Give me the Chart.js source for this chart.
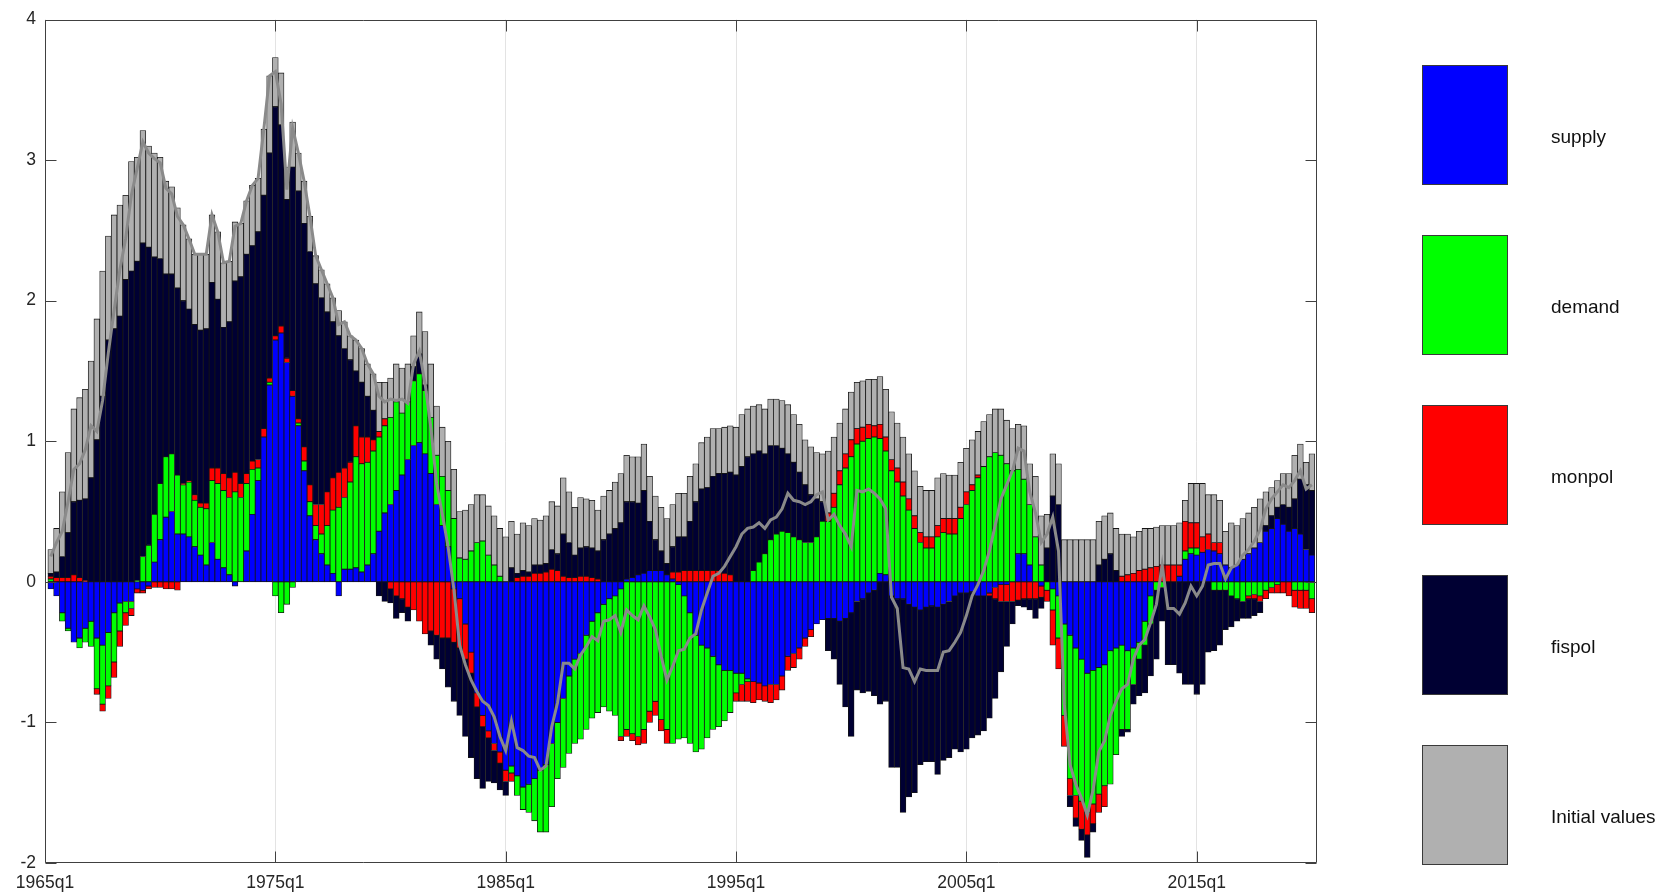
<!DOCTYPE html>
<html>
<head>
<meta charset="utf-8">
<script src="https://cdn.jsdelivr.net/npm/chart.js@4.4.0/dist/chart.umd.min.js"></script>
<style>
html,body{margin:0;padding:0;background:#fff;}
#wrap{position:relative;width:1660px;height:895px;overflow:hidden;}
#c{position:absolute;left:0;top:0;}
.lg-box{position:absolute;left:1422px;width:86px;height:120px;border:1px solid #3a3a3a;box-sizing:border-box;}
.lg-text{position:absolute;left:1551px;font-family:"Liberation Sans",Arial,Helvetica,sans-serif;font-size:19px;color:#111;line-height:1;transform:translateY(-50%);white-space:nowrap;}
</style>
</head>
<body>
<div id="wrap">
<canvas id="c" width="1660" height="895"></canvas>
<div id="legend"></div>
</div>
<script>
// ---------------- data ----------------
const seriesNames = ['supply', 'demand', 'monpol', 'fispol', 'Initial values'];
const seriesColors = ['#0000ff', '#00ff00', '#ff0000', '#000033', '#b0b0b0'];
const firstYear = 1965, firstQuarter = 2;   // first bar: 1965q2
const xTickYears = [1965, 1975, 1985, 1995, 2005, 2015];
const xTickLabels = ['1965q1', '1975q1', '1985q1', '1995q1', '2005q1', '2015q1'];
const yTickValues = [-2, -1, 0, 1, 2, 3, 4];

const supply = [
-0.05,-0.10,-0.22,-0.33,-0.43,-0.40,-0.33,-0.28,-0.40,-0.45,
-0.36,-0.22,-0.15,-0.14,-0.14,-0.05,-0.06,-0.03,0.14,0.30,
0.46,0.50,0.34,0.34,0.32,0.25,0.19,0.12,0.28,0.16,
0.10,0.05,-0.03,0.00,0.22,0.48,0.72,1.03,1.40,1.72,
1.77,1.56,1.32,1.11,0.79,0.47,0.30,0.20,0.12,0.06,
-0.10,0.09,0.09,0.10,0.07,0.12,0.20,0.36,0.49,0.55,
0.65,0.76,0.87,0.97,0.99,0.91,0.77,0.55,0.40,0.25,
-0.05,-0.12,-0.30,-0.50,-0.79,-0.95,-1.06,-1.15,-1.21,-1.34,
-1.31,-1.38,-1.46,-1.44,-1.40,-1.34,-1.30,-1.15,-1.00,-0.83,
-0.67,-0.55,-0.51,-0.38,-0.28,-0.22,-0.16,-0.12,-0.10,-0.05,
0.02,0.03,0.05,0.06,0.08,0.08,0.08,0.05,0.02,-0.02,
-0.10,-0.22,-0.38,-0.45,-0.47,-0.53,-0.59,-0.63,-0.63,-0.65,
-0.65,-0.69,-0.71,-0.72,-0.74,-0.73,-0.73,-0.67,-0.53,-0.51,
-0.47,-0.40,-0.34,-0.30,-0.27,-0.26,-0.26,-0.28,-0.26,-0.22,
-0.14,-0.12,-0.08,-0.06,0.06,0.05,-0.10,-0.12,-0.12,-0.16,
-0.18,-0.20,-0.18,-0.17,-0.18,-0.16,-0.14,-0.10,-0.08,-0.08,
-0.07,-0.10,-0.10,-0.08,-0.04,-0.02,-0.02,0.00,0.20,0.20,
0.12,0.00,-0.03,0.00,-0.05,-0.10,-0.30,-0.38,-0.47,-0.55,
-0.65,-0.63,-0.61,-0.59,-0.49,-0.47,-0.45,-0.49,-0.47,-0.43,
-0.28,-0.10,0.00,0.00,0.00,0.00,0.04,0.16,0.20,0.19,
0.21,0.23,0.22,0.20,0.12,0.10,0.12,0.16,0.20,0.24,
0.28,0.36,0.38,0.45,0.41,0.36,0.38,0.34,0.23,0.19
];
const demand = [
0.02,0.00,-0.06,-0.02,0.00,-0.07,-0.10,-0.18,-0.36,-0.42,
-0.38,-0.35,-0.20,-0.08,-0.05,0.01,0.18,0.26,0.34,0.40,
0.43,0.41,0.42,0.35,0.39,0.33,0.34,0.40,0.44,0.54,
0.55,0.55,0.64,0.60,0.48,0.32,0.09,0.00,0.02,-0.10,
-0.22,-0.16,-0.04,0.02,0.07,0.10,0.10,0.14,0.28,0.45,
0.53,0.51,0.62,0.79,0.77,0.73,0.73,0.67,0.62,0.62,
0.63,0.44,0.41,0.46,0.49,0.45,0.40,0.35,0.35,0.40,
0.45,0.17,0.16,0.22,0.28,0.29,0.19,0.12,0.04,0.00,
-0.05,-0.14,-0.16,-0.20,-0.30,-0.44,-0.48,-0.45,-0.40,-0.49,
-0.55,-0.60,-0.61,-0.67,-0.69,-0.71,-0.73,-0.80,-0.85,-1.05,
-1.05,-1.08,-1.10,-1.05,-0.92,-0.85,-0.98,-1.05,-1.15,-1.10,
-1.01,-0.93,-0.83,-0.74,-0.64,-0.52,-0.44,-0.36,-0.30,-0.14,
-0.08,-0.02,0.08,0.14,0.20,0.30,0.34,0.36,0.35,0.32,
0.30,0.28,0.28,0.32,0.43,0.43,0.53,0.69,0.81,0.89,
0.98,1.00,1.02,1.03,0.96,0.88,0.79,0.71,0.61,0.51,
0.38,0.28,0.24,0.24,0.32,0.35,0.34,0.34,0.45,0.55,
0.65,0.74,0.82,0.89,0.92,0.90,0.84,0.79,0.60,0.53,
0.43,0.32,0.12,-0.06,-0.15,-0.30,-0.65,-1.02,-1.05,-1.01,
-0.99,-0.95,-0.90,-0.86,-0.95,-0.76,-0.60,-0.56,-0.26,-0.12,
-0.17,-0.20,-0.06,-0.04,0.00,0.00,0.00,0.06,0.04,0.05,
0.00,0.00,-0.06,-0.06,-0.06,-0.10,-0.12,-0.14,-0.10,-0.09,
-0.10,-0.06,-0.04,-0.02,0.00,0.00,-0.06,-0.06,-0.06,-0.12
];
const monpol = [
0.02,0.03,0.03,0.03,0.05,0.03,0.01,0.00,-0.04,-0.05,
-0.09,-0.11,-0.11,-0.09,-0.05,-0.03,-0.02,-0.02,-0.04,-0.04,
-0.05,-0.05,-0.06,0.01,0.01,0.04,0.03,0.04,0.09,0.11,
0.12,0.14,0.14,0.10,0.07,0.06,0.06,0.06,0.03,0.03,
0.05,0.03,0.04,0.03,0.10,0.12,0.15,0.21,0.24,0.23,
0.25,0.21,0.14,0.22,0.19,0.18,0.08,0.04,0.05,-0.05,
-0.10,-0.12,-0.18,-0.20,-0.28,-0.37,-0.35,-0.38,-0.40,-0.40,
-0.38,-0.35,-0.25,-0.15,-0.10,-0.08,-0.05,-0.05,-0.08,-0.08,
-0.06,0.03,0.04,0.04,0.06,0.06,0.07,0.09,0.08,0.04,
0.03,0.03,0.04,0.04,0.03,0.02,0.00,0.00,0.00,-0.03,
-0.05,-0.05,-0.06,-0.10,-0.08,-0.10,-0.08,-0.10,0.05,0.07,
0.08,0.08,0.08,0.08,0.08,0.08,0.08,0.06,0.05,-0.06,
-0.12,-0.14,-0.15,-0.12,-0.11,-0.13,-0.11,-0.10,-0.10,-0.10,
-0.08,-0.06,-0.05,0.00,0.00,0.06,0.10,0.10,0.10,0.12,
0.11,0.10,0.10,0.08,0.10,0.10,0.08,0.10,0.10,0.08,
0.09,0.07,0.08,0.08,0.08,0.10,0.11,0.11,0.08,0.09,
0.04,0.02,0.00,-0.02,-0.08,-0.12,-0.12,-0.14,-0.13,-0.12,
-0.12,-0.12,-0.08,-0.08,-0.25,-0.22,-0.22,-0.12,-0.16,-0.20,
-0.16,-0.14,-0.13,-0.15,0.00,0.00,0.04,0.05,0.06,0.08,
0.09,0.10,0.11,0.12,0.12,0.12,0.08,0.21,0.18,0.18,
0.11,0.11,0.06,0.08,0.00,0.00,0.00,0.00,-0.02,-0.03,
-0.04,-0.06,-0.04,-0.06,-0.08,-0.10,-0.12,-0.13,-0.13,-0.10
];
const fispol = [
0.02,0.04,0.15,0.32,0.52,0.55,0.58,0.74,1.01,1.32,
1.72,1.80,1.89,2.15,2.21,2.27,2.23,2.12,1.83,1.60,
1.30,1.28,1.33,1.30,1.22,1.21,1.23,1.24,1.32,1.20,
1.04,1.11,1.36,1.47,1.56,1.53,1.62,1.66,1.60,1.63,
1.43,1.13,1.59,1.62,1.59,1.66,1.57,1.47,1.28,1.11,
0.97,0.85,0.73,0.39,0.39,0.29,0.21,-0.10,-0.14,-0.10,
-0.16,-0.10,-0.10,0.10,0.14,0.04,-0.10,-0.17,-0.22,-0.35,
-0.42,-0.48,-0.55,-0.60,-0.51,-0.44,-0.31,-0.23,-0.19,-0.10,
0.10,0.03,0.04,0.03,0.06,0.06,0.06,0.14,0.12,0.30,
0.25,0.16,0.20,0.21,0.21,0.20,0.30,0.34,0.38,0.42,
0.55,0.54,0.51,0.59,0.35,0.22,0.14,0.08,0.18,0.25,
0.24,0.35,0.49,0.58,0.59,0.67,0.69,0.71,0.73,0.76,
0.82,0.89,0.83,0.79,0.71,0.67,0.63,0.59,0.56,0.53,
0.48,0.41,0.34,0.27,0.14,-0.23,-0.29,-0.45,-0.63,-0.88,
-0.63,-0.67,-0.70,-0.75,-0.87,-0.85,-1.22,-1.20,-1.52,-1.37,
-1.32,-1.10,-1.10,-1.11,-1.19,-1.11,-1.11,-1.09,-1.13,-1.11,
-1.04,-0.99,-0.96,-0.87,-0.71,-0.50,-0.32,-0.16,-0.04,-0.06,
-0.08,-0.14,-0.08,0.24,0.61,0.55,0.00,-0.08,-0.06,-0.08,
-0.16,-0.06,0.12,0.16,0.20,0.08,-0.05,-0.02,-0.14,-0.26,
-0.34,-0.37,-0.49,-0.24,-0.59,-0.59,-0.65,-0.73,-0.73,-0.80,
-0.73,-0.50,-0.43,-0.39,-0.28,-0.22,-0.16,-0.12,-0.14,-0.12,
-0.08,0.04,0.09,0.08,0.14,0.17,0.21,0.39,0.46,0.46
];
const initialValues = [
0.17,0.31,0.46,0.57,0.66,0.73,0.78,0.83,0.86,0.89,
0.74,0.81,0.79,0.60,0.78,0.74,0.80,0.72,0.74,0.72,
0.66,0.62,0.57,0.54,0.50,0.50,0.54,0.53,0.48,0.48,
0.46,0.43,0.42,0.38,0.38,0.43,0.38,0.47,0.55,0.35,
0.37,0.23,0.32,0.27,0.30,0.25,0.20,0.20,0.20,0.17,
0.18,0.19,0.17,0.22,0.24,0.23,0.26,0.35,0.26,0.28,
0.27,0.32,0.27,0.22,0.30,0.38,0.38,0.35,0.35,0.35,
0.35,0.33,0.35,0.33,0.34,0.33,0.35,0.35,0.34,0.32,
0.33,0.28,0.34,0.33,0.33,0.32,0.34,0.34,0.34,0.40,
0.36,0.34,0.36,0.34,0.34,0.29,0.31,0.31,0.33,0.35,
0.33,0.32,0.33,0.33,0.32,0.31,0.31,0.32,0.30,0.31,
0.31,0.32,0.27,0.33,0.36,0.34,0.32,0.33,0.33,0.34,
0.37,0.34,0.34,0.33,0.32,0.33,0.33,0.34,0.35,0.34,
0.34,0.32,0.34,0.33,0.34,0.44,0.40,0.34,0.32,0.34,
0.33,0.33,0.32,0.33,0.34,0.34,0.34,0.32,0.32,0.32,
0.32,0.33,0.33,0.33,0.34,0.32,0.31,0.31,0.32,0.31,
0.32,0.31,0.32,0.30,0.31,0.33,0.31,0.30,0.32,0.38,
0.29,0.43,0.35,0.24,0.30,0.29,0.30,0.30,0.30,0.30,
0.30,0.30,0.31,0.31,0.29,0.30,0.30,0.29,0.26,0.28,
0.29,0.28,0.28,0.28,0.28,0.28,0.30,0.15,0.28,0.28,
0.38,0.28,0.34,0.30,0.24,0.32,0.28,0.29,0.29,0.29,
0.31,0.24,0.20,0.19,0.22,0.24,0.31,0.25,0.16,0.26
];

// quarterly category labels, e.g. "1965q2"
const quarters = [];
for (let k = 0, y = firstYear, q = firstQuarter; k < supply.length; k++) {
  quarters.push(y + 'q' + q);
  q++; if (q > 4) { q = 1; y++; }
}
// numeric time position of each quarter (year + (q-1)/4)
const xPos = quarters.map(s => { const [y, q] = s.split('q').map(Number); return y + (q - 1) / 4; });

const componentSeries = [supply, demand, monpol, fispol, initialValues];
// the grey line is the total of the components
const total = xPos.map((_, i) => componentSeries.reduce((acc, s) => acc + s[i], 0));

// ---------------- chart ----------------
const FONT = '"Liberation Sans", Arial, Helvetica, sans-serif';
Chart.defaults.font.family = FONT;

const barSets = componentSeries.map((s, k) => ({
  type: 'bar',
  label: seriesNames[k],
  data: s.map((v, i) => ({ x: xPos[i], y: v })),
  backgroundColor: seriesColors[k],
  borderColor: '#141414',
  borderWidth: 0.8,
  borderSkipped: false,
  stack: 'components',
  categoryPercentage: 1.0,
  barPercentage: 1.0,
  order: 2
}));

const lineSet = {
  type: 'line',
  label: 'total',
  data: total.map((v, i) => ({ x: xPos[i], y: v })),
  borderColor: '#8a8a8a',
  borderWidth: 3,
  pointRadius: 0,
  tension: 0,
  fill: false,
  stack: 'totalLine',
  order: 1
};

const boxPlugin = {
  id: 'matlabBox',
  afterDatasetsDraw(chart) {
    const { ctx, chartArea: a, scales: { x, y } } = chart;
    ctx.save();
    ctx.strokeStyle = '#404040';
    ctx.lineWidth = 1;
    const L = Math.round(a.left) + 0.5, R = Math.round(a.right) - 0.5;
    const T = Math.round(a.top) + 0.5, B = Math.round(a.bottom) - 0.5;
    ctx.beginPath();
    ctx.rect(L, T, R - L, B - T);
    const tl = 11;
    yTickValues.forEach(v => {
      const py = Math.round(y.getPixelForValue(v)) + 0.5;
      ctx.moveTo(L, py); ctx.lineTo(L + tl, py);
      ctx.moveTo(R, py); ctx.lineTo(R - tl, py);
    });
    xTickYears.forEach(v => {
      const px = Math.round(x.getPixelForValue(v)) + 0.5;
      ctx.moveTo(px, B); ctx.lineTo(px, B - tl);
      ctx.moveTo(px, T); ctx.lineTo(px, T + tl);
    });
    ctx.stroke();
    ctx.restore();
  }
};

new Chart(document.getElementById('c'), {
  data: { datasets: [...barSets, lineSet] },
  options: {
    responsive: false,
    animation: false,
    devicePixelRatio: 1,
    events: [],
    layout: { padding: { top: 15, right: 343.5, left: 0, bottom: 0 } },
    plugins: { legend: { display: false }, tooltip: { enabled: false } },
    scales: {
      x: {
        type: 'linear',
        stacked: true,
        offset: false,
        min: 1965,
        max: 2020.2,
        grid: { color: '#e3e3e3', lineWidth: 1, drawTicks: false, offset: false },
        border: { display: false },
        afterBuildTicks: s => { s.ticks = xTickYears.map(v => ({ value: v })); },
        ticks: {
          autoSkip: false, maxRotation: 0, padding: 10,
          color: '#262626', font: { size: 17.5, family: FONT },
          callback: (v, i) => xTickLabels[i]
        },
        afterFit: s => { s.height = 32; }
      },
      y: {
        stacked: true,
        min: -2,
        max: 4,
        grid: { display: false, drawTicks: false },
        border: { display: false },
        afterBuildTicks: s => { s.ticks = yTickValues.map(v => ({ value: v })); },
        ticks: { padding: 9, color: '#262626', font: { size: 17.5, family: FONT } },
        afterFit: s => { s.width = 45; }
      }
    }
  },
  plugins: [boxPlugin]
});

// ---------------- legend (HTML text) ----------------
const legendTops = [64.6, 234.5, 405, 575, 745];
const lg = document.getElementById('legend');
seriesNames.forEach((name, k) => {
  const b = document.createElement('div');
  b.className = 'lg-box';
  b.style.top = legendTops[k] + 'px';
  b.style.background = seriesColors[k];
  lg.appendChild(b);
  const t = document.createElement('div');
  t.className = 'lg-text';
  t.style.top = (legendTops[k] + 71) + 'px';
  t.textContent = name;
  lg.appendChild(t);
});
</script>
</body>
</html>
